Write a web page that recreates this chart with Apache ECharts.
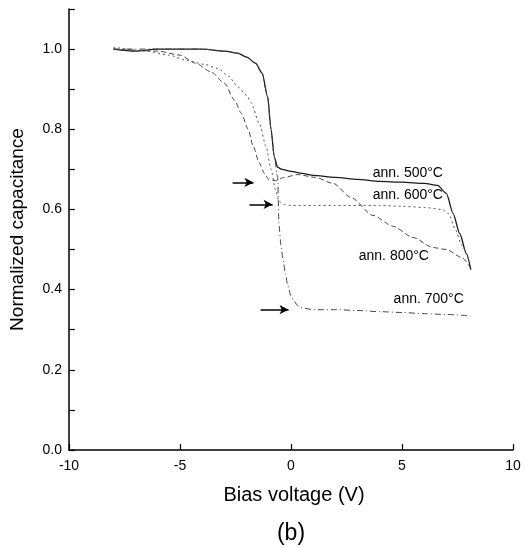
<!DOCTYPE html>
<html>
<head>
<meta charset="utf-8">
<script src="https://cdn.jsdelivr.net/npm/echarts@6/dist/echarts.min.js"></script>
<style>html,body{margin:0;padding:0;background:#fff}#c{width:526px;height:548px}</style>
</head>
<body>
<div id="c"></div>
<script>
// ---- data ----
var x500 = [-8, -7, -6, -5, -4, -3, -2.4, -2.0, -1.6, -1.3, -1.05, -0.9, -0.75, -0.6, -0.4, 0, 0.5, 1, 2, 3, 4, 5, 6, 6.6, 7.0, 7.3, 7.6, 7.9, 8.1];
var y500 = [1.0, 0.995, 1.0, 1.0, 1.0, 0.995, 0.99, 0.98, 0.965, 0.94, 0.88, 0.80, 0.73, 0.705, 0.70, 0.695, 0.69, 0.685, 0.68, 0.675, 0.67, 0.668, 0.665, 0.66, 0.64, 0.59, 0.54, 0.49, 0.45];

var x600 = [-8, -6.5, -5.5, -4.7, -3.9, -3.3, -2.8, -2.4, -2.0, -1.8, -1.43, -1.12, -0.9, -0.7, -0.55, -0.3, 0, 1, 2, 3, 4, 5, 6, 6.8, 7.1, 7.4, 7.7, 8.0];
var y600 = [1.005, 0.995, 0.985, 0.972, 0.962, 0.952, 0.932, 0.906, 0.885, 0.866, 0.815, 0.757, 0.70, 0.65, 0.62, 0.612, 0.61, 0.61, 0.61, 0.61, 0.61, 0.608, 0.605, 0.60, 0.59, 0.55, 0.51, 0.475];

var x700 = [-8, -6, -4, -3, -2.4, -2.0, -1.6, -1.3, -1.05, -0.9, -0.75, -0.6, -0.54, -0.45, -0.36, -0.25, -0.15, 0, 0.1, 0.3, 0.45, 1, 2, 3, 4, 5, 6, 7, 8];
var y700 = [1.0, 1.0, 1.0, 0.995, 0.99, 0.98, 0.965, 0.94, 0.88, 0.80, 0.73, 0.68, 0.56, 0.51, 0.475, 0.44, 0.41, 0.385, 0.375, 0.36, 0.355, 0.35, 0.35, 0.348, 0.345, 0.343, 0.34, 0.338, 0.335];

var x800 = [-8, -6, -5, -4.3, -3.6, -3.0, -2.55, -2.24, -1.93, -1.7, -1.43, -1.2, -1.0, -0.7, -0.3, 0.3, 1.1, 1.9, 2.7, 3.7, 4.6, 5.5, 6.4, 7.0, 7.7, 8.07];
var y800 = [1.0, 0.995, 0.985, 0.965, 0.943, 0.915, 0.873, 0.84, 0.80, 0.757, 0.716, 0.69, 0.674, 0.672, 0.68, 0.687, 0.68, 0.665, 0.63, 0.585, 0.558, 0.53, 0.505, 0.50, 0.48, 0.455];

var seriesNames = ['ann. 500°C', 'ann. 600°C', 'ann. 700°C', 'ann. 800°C'];
var labelX = [3.66, 3.66, 4.6, 3.03];
var labelY = [0.69, 0.635, 0.3775, 0.4825];

var arrowY  = [0.6675, 0.6125, 0.35];
var arrowX0 = [-2.63, -1.87, -1.37];
var arrowX1 = [-1.69, -0.83, -0.11];

var xTicks = [-10, -5, 0, 5, 10];
var yTickLabels = ['0.0', '0.2', '0.4', '0.6', '0.8', '1.0'];

// ---- build ----
function pairs(xs, ys) { return xs.map(function (x, i) { return [x, ys[i]]; }); }
var allX = [x500, x600, x700, x800];
var allY = [y500, y600, y700, y800];
var styles = [
  { color: '#1a1a1a', width: 1.3, type: 'solid' },
  { color: '#555', width: 1, type: [2, 3] },
  { color: '#444', width: 1, type: [6, 3, 1, 3] },
  { color: '#444', width: 1, type: [5, 3] }
];
var FONT = 'Liberation Sans';

var series = seriesNames.map(function (n, i) {
  return {
    name: n,
    type: 'line',
    data: pairs(allX[i], allY[i]),
    showSymbol: false,
    symbol: 'none',
    smooth: 0.25,
    smoothMonotone: 'x',
    lineStyle: styles[i],
    z: 3,
    markPoint: {
      symbol: 'circle',
      symbolSize: 1,
      itemStyle: { color: 'rgba(0,0,0,0)' },
      silent: true,
      data: [{
        coord: [labelX[i], labelY[i]],
        label: {
          show: true, position: 'right', distance: 0,
          formatter: n, color: '#000', fontSize: 14, fontFamily: FONT
        }
      }]
    }
  };
});

series.push({
  name: 'arrows',
  type: 'line',
  data: [],
  markLine: {
    silent: true,
    symbol: ['none', 'arrow'],
    symbolSize: [7, 9],
    lineStyle: { color: '#000', width: 1.5, type: 'solid' },
    label: { show: false },
    data: arrowY.map(function (y, i) {
      return [{ coord: [arrowX0[i], y] }, { coord: [arrowX1[i], y] }];
    })
  }
});

var chart = echarts.init(document.getElementById('c'), null, { renderer: 'canvas' });
chart.setOption({
  animation: false,
  backgroundColor: '#fff',
  grid: { left: 68, right: 13, top: 9, bottom: 98 },
  xAxis: {
    type: 'value', min: -10, max: 10, interval: 5,
    name: 'Bias voltage (V)', nameLocation: 'middle', nameGap: 35,
    nameTextStyle: { fontSize: 20, fontFamily: FONT, color: '#000', padding: [0, 0, 0, 6] },
    axisLine: { show: true, onZero: false, lineStyle: { color: '#000', width: 1.5 } },
    axisTick: { show: true, inside: true, length: 6, lineStyle: { color: '#000', width: 1.2 } },
    axisLabel: { color: '#000', fontSize: 14, fontFamily: FONT, margin: 9,
      formatter: function (v) { return xTicks.indexOf(v) >= 0 ? String(v) : ''; } },
    splitLine: { show: false }
  },
  yAxis: {
    type: 'value', min: 0, max: 1.1, interval: 0.1,
    name: 'Normalized capacitance', nameLocation: 'middle', nameGap: 42,
    nameTextStyle: { fontSize: 19, fontFamily: FONT, color: '#000' },
    axisLine: { show: true, onZero: false, lineStyle: { color: '#000', width: 1.5 } },
    axisTick: { show: true, inside: true, length: 6, lineStyle: { color: '#000', width: 1.2 } },
    axisLabel: { color: '#000', fontSize: 14, fontFamily: FONT, margin: 7,
      formatter: function (v) {
        var k = Math.round(v * 5);
        if (Math.abs(v * 5 - k) < 1e-6 && k <= 5) return yTickLabels[k];
        return '';
      } },
    splitLine: { show: false }
  },
  graphic: [{
    type: 'text', x: 291, y: 534,
    style: { text: '(b)', fontSize: 23, fontFamily: FONT, fill: '#000', align: 'center', verticalAlign: 'middle' }
  }],
  series: series
});
</script>
</body>
</html>
